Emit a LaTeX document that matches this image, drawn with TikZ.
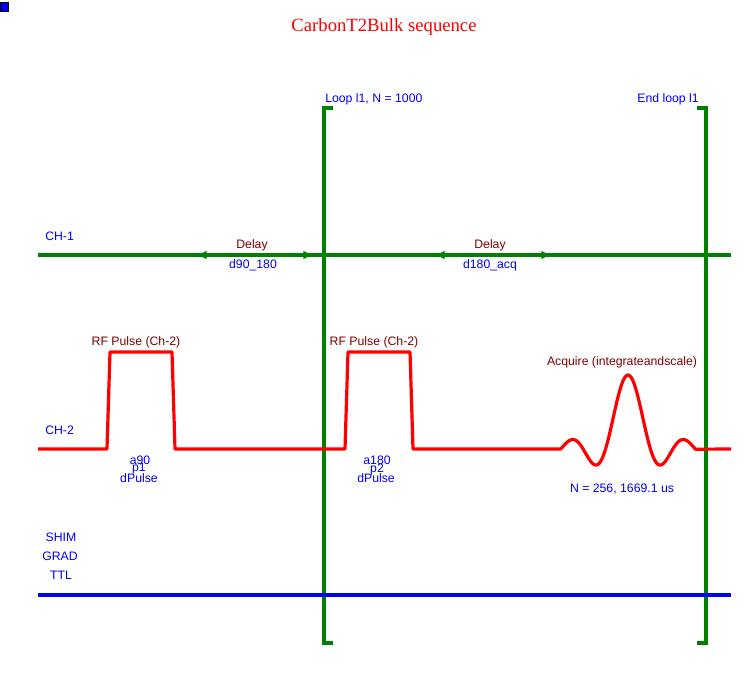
\documentclass[tikz,border=0pt]{standalone}
\usepackage{fontspec}
\setmainfont{Liberation Sans}
\newfontfamily\titlefont{Liberation Serif}
\usetikzlibrary{arrows.meta}
\definecolor{lgreen}{RGB}{0,128,0}
\definecolor{lred}{RGB}{255,0,0}
\definecolor{lblue}{RGB}{0,0,255}
\definecolor{maroon}{RGB}{128,0,0}
\tikzset{
  chan/.style={line width=2.4pt},
  lbl/.style={inner sep=0pt, font=\fontsize{9.2}{10}\selectfont},
  bluelbl/.style={lbl, text=lblue},
  redlbl/.style={lbl, text=maroon},
  tip/.style={-{Latex[length=8pt,width=6.5pt]}, line width=2.4pt, lgreen},
}
\begin{document}
\begin{tikzpicture}[x=0.75pt,y=-0.75pt]
\useasboundingbox (0,0) rectangle (749,676);
% corner marker
\node[draw=black, fill=lblue, line width=0.5pt, minimum width=6pt, minimum height=6.5pt, inner sep=0pt, anchor=north west] (mark) at (0,2) {};
% title
\node[inner sep=0pt, text=lred, font=\titlefont\fontsize{14}{16}\selectfont] (title) at (384,27) {CarbonT2Bulk sequence};
% loop brackets
\coordinate (lt) at (333,108); \coordinate (lb) at (333,643);
\coordinate (rt) at (697,108); \coordinate (rb) at (697,643);
\draw[chan, lgreen] (lt) -- (324,108) -- (324,643) -- (lb);
\draw[chan, lgreen] (rt) -- (706,108) -- (706,643) -- (rb);
\node[bluelbl, anchor=west] (loop) at (325,99) {Loop l1, N = 1000};
\node[bluelbl, anchor=east] (endloop) at (699,99) {End loop l1};
% CH-1
\node[bluelbl, anchor=west] (ch1) at (45,236) {CH-1};
\coordinate (c1s) at (38,255); \coordinate (c1e) at (731,255);
\draw[chan, lgreen] (c1s) -- (c1e);
\coordinate (d1l) at (196,255); \coordinate (d1r) at (314,255); \coordinate (d1m) at (255,255);
\coordinate (d2l) at (434,255); \coordinate (d2r) at (552,255); \coordinate (d2m) at (493,255);
\draw[tip] (d1m) -- (d1l); \draw[tip] (d1m) -- (d1r);
\draw[tip] (d2m) -- (d2l); \draw[tip] (d2m) -- (d2r);
\node[redlbl] (delay1) at (252,245) {Delay};
\node[bluelbl] (d90) at (253,265) {d90\_180};
\node[redlbl] (delay2) at (490,245) {Delay};
\node[bluelbl] (d180) at (490,265) {d180\_acq};
% CH-2
\node[bluelbl, anchor=west] (ch2) at (45,430) {CH-2};
\coordinate (c2s) at (38,449); \coordinate (c2e) at (731,449);
\draw[chan, lred, line join=round]
  (c2s) -- (107,449) -- (110,352) -- (172,352) -- (175,449)
  -- (345,449) -- (348,352) -- (410,352) -- (413,449) -- (560,449)
  -- plot[domain=-67.5:67.5, samples=120, smooth] ({628+\x}, {449-74*sin(0.14*\x r)/(0.14*\x)})
  -- (c2e);
\node[redlbl] (rf1) at (136,342) {RF Pulse (Ch-2)};
\node[redlbl] (rf2) at (374,342) {RF Pulse (Ch-2)};
\node[bluelbl] (a90) at (140,460) {a90};
\node[bluelbl] (p1) at (139,469) {p1};
\node[bluelbl] (dp1) at (139,478) {dPulse};
\node[bluelbl] (a180) at (377,460) {a180};
\node[bluelbl] (p2) at (377,469) {p2};
\node[bluelbl] (dp2) at (376,478) {dPulse};
\node[redlbl] (acq) at (622,362) {Acquire (integrateandscale)};
\node[bluelbl] (acqn) at (622,489) {N = 256, 1669.1 us};
% SHIM/GRAD/TTL
\node[bluelbl] (shim) at (61,537) {SHIM};
\node[bluelbl] (grad) at (60,556) {GRAD};
\node[bluelbl] (ttl) at (61,575) {TTL};
\coordinate (c3s) at (38,595); \coordinate (c3e) at (731,595);
\draw[chan, lblue] (c3s) -- (c3e);
\end{tikzpicture}
\end{document}
